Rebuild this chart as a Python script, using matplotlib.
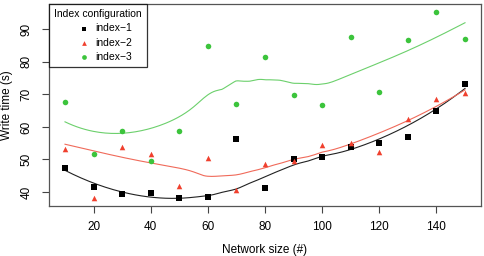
import numpy as np
import matplotlib
matplotlib.use("Agg")
import matplotlib.pyplot as plt

plt.rcParams["font.family"] = ["Liberation Sans", "DejaVu Sans"]

sizes = [10, 20, 30, 40, 50, 60, 70, 80, 90, 100, 110, 120, 130, 140, 150]
index1 = [47.4, 41.6, 39.4, 39.7, 38.1, 38.6, 56.3, 41.3, 50.2, 50.9, 53.8, 55.0, 57.0, 64.9, 73.3]
index2 = [53.3, 38.2, 53.9, 51.7, 41.9, 50.4, 40.7, 48.7, 49.4, 54.5, 55.2, 52.3, 62.3, 68.7, 70.5]
index3 = [67.7, 51.6, 58.9, 49.6, 58.8, 84.8, 67.1, 81.5, 69.8, 66.9, 87.6, 70.6, 86.7, 95.3, 86.9]
labels = ["index\u22121", "index\u22122", "index\u22123"]


def local_fit(x, y, x0, q, rw):
    d = np.abs(x - x0)
    h = np.sort(d)[q - 1]
    w = np.clip(1 - (d / h) ** 3, 0, None) ** 3 * rw
    X = np.column_stack([np.ones_like(x), x - x0, (x - x0) ** 2])
    W = np.sqrt(w)
    return np.linalg.lstsq(X * W[:, None], y * W, rcond=None)[0][0]


def loess(x, y, xs, span=0.75, iters=4):
    # local quadratic, tricube weights, bisquare robustness (family="symmetric")
    x = np.asarray(x, float)
    y = np.asarray(y, float)
    q = int(np.floor(span * len(x)))
    rw = np.ones(len(x))
    for _ in range(iters):
        fit = np.array([local_fit(x, y, x0, q, rw) for x0 in x])
        res = y - fit
        s = np.median(np.abs(res))
        u = res / (6 * s)
        rw = np.where(np.abs(u) < 1, (1 - u ** 2) ** 2, 0.0)
    return np.array([local_fit(x, y, x0, q, rw) for x0 in xs])


fig = plt.figure(figsize=(4.84, 2.56), dpi=100)
ax = fig.add_axes([49 / 484, 1 - 206 / 256, 432 / 484, 202 / 256])

styles = [
    (index1, "s", "black", "#222222"),
    (index2, "^", "#f0402e", "#f06a5a"),
    (index3, "o", "#3cc43c", "#6cd06c"),
]
xs = np.linspace(min(sizes), max(sizes), 200)
handles = []
for (vals, mk, c, lc), lab in zip(styles, labels):
    h = ax.scatter(sizes, vals, marker=mk, s=16, color=c, linewidths=0, label=lab, zorder=3)
    handles.append(h)
    ax.plot(xs, loess(sizes, vals, xs), color=lc, lw=0.8, zorder=2)

ax.set_xlim(4.4, 155.6)
ax.set_ylim(35.7, 97.8)
ax.set_xticks([20, 40, 60, 80, 100, 120, 140])
ax.set_yticks([40, 50, 60, 70, 80, 90])
ax.tick_params(axis="both", labelsize=8.5, length=5, width=0.8, color="#444444", pad=6)
ax.tick_params(axis="y", pad=7)
for lbl in ax.get_yticklabels():
    lbl.set_rotation(90)
    lbl.set_va("center")
for sp in ax.spines.values():
    sp.set_color("#555555")
    sp.set_linewidth(0.9)

ax.set_xlabel("Network size (#)", fontsize=8.5, labelpad=8)
ax.set_ylabel("Write time (s)", fontsize=8.5)
ax.yaxis.set_label_coords(-0.083, 0.5)

leg = ax.legend(handles=handles, title="Index configuration", loc="upper left",
                fontsize=7.5, title_fontsize=7.5, frameon=True, fancybox=False,
                borderaxespad=0, handletextpad=-0.9, borderpad=0.5,
                labelspacing=0.4, handlelength=4.0, markerscale=0.85)
leg.get_frame().set_edgecolor("black")
leg.get_frame().set_linewidth(0.9)

fig.savefig("out.png", dpi=100)
